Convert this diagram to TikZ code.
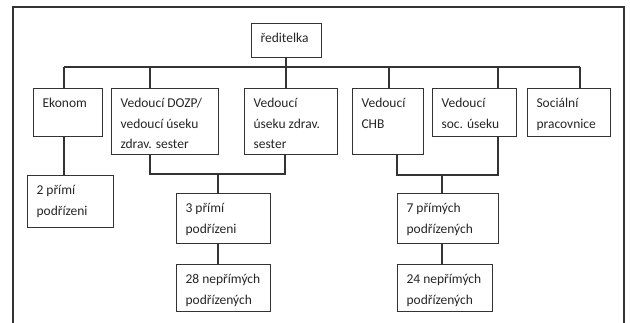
\documentclass[tikz,border=0pt]{standalone}
\usepackage{fontspec}
\setmainfont{Carlito}
\newcommand{\bxt}[3]{\parbox[c][#2pt][t]{#1pt}{\fontsize{13.5}{20.5}\selectfont\raggedright\leftskip=9pt\rule{0pt}{19pt}#3}}
\begin{document}
\begin{tikzpicture}[x=1pt,y=-1pt,
  box/.style={draw=black!80,line width=1.1pt,inner sep=0pt,anchor=north west,text=black!85},
  ln/.style={draw=black!80,line width=1.1pt}]
\useasboundingbox (0,0) rectangle (630,322);
\draw[ln] (13,340) -- (13,7) -- (624,7) -- (624,340);
\node[box] (dir)  at (251,23)  {\bxt{70}{34}{ředitelka}};
\node[box] (ekon) at (33,88)   {\bxt{69}{48}{Ekonom}};
\node[box] (dozp) at (111,88)  {\bxt{107}{66}{Vedoucí DOZP/\\vedoucí úseku\\zdrav. sester}};
\node[box] (zdr)  at (244,88)  {\bxt{93}{66}{Vedoucí\\úseku zdrav.\\sester}};
\node[box] (chb)  at (352,88)  {\bxt{71}{66}{Vedoucí\\CHB}};
\node[box] (soc)  at (432,88)  {\bxt{84}{48}{Vedoucí\\soc. úseku}};
\node[box] (socp) at (527,88)  {\bxt{83}{48}{Sociální\\pracovnice}};
\node[box] (p2)   at (27,175)  {\bxt{86}{52}{2 přímí\\podřízeni}};
\node[box] (p3)   at (176,193) {\bxt{94}{50}{3 přímí\\podřízeni}};
\node[box] (n28)  at (176,264) {\bxt{94}{47}{28 nepřímých\\podřízených}};
\node[box] (p7)   at (397,193) {\bxt{101}{50}{7 přímých\\podřízených}};
\node[box] (n24)  at (397,264) {\bxt{95}{47}{24 nepřímých\\podřízených}};
% top bus
\coordinate (b1) at (64,67);
\coordinate (b2) at (150,67);
\coordinate (b3) at (286,67);
\coordinate (b4) at (389,67);
\coordinate (b5) at (498,67);
\coordinate (b6) at (580,67);
\draw[ln] (b3 |- dir.south) -- (b3);
\draw[ln] (b1) -- (b6);
\draw[ln] (b1) -- (b1 |- ekon.north);
\draw[ln] (b2) -- (b2 |- dozp.north);
\draw[ln] (b3) -- (b3 |- zdr.north);
\draw[ln] (b4) -- (b4 |- chb.north);
\draw[ln] (b5) -- (b5 |- soc.north);
\draw[ln] (b6) -- (b6 |- socp.north);
% Ekonom
\draw[ln] (b1 |- ekon.south) -- (b1 |- p2.north);
% left group
\coordinate (l1) at (150,174);
\coordinate (l2) at (218,174);
\coordinate (l3) at (285,174);
\draw[ln] (l1 |- dozp.south) -- (l1) -- (l3) -- (l3 |- zdr.south);
\draw[ln] (l2) -- (l2 |- p3.north);
\draw[ln] (l2 |- p3.south) -- (l2 |- n28.north);
% right group
\coordinate (r1) at (397,175);
\coordinate (r2) at (442,175);
\coordinate (r3) at (498,175);
\draw[ln] (r1 |- chb.south) -- (r1) -- (r3) -- (r3 |- soc.south);
\draw[ln] (r2) -- (r2 |- p7.north);
\draw[ln] (r2 |- p7.south) -- (r2 |- n24.north);
\end{tikzpicture}
\end{document}
